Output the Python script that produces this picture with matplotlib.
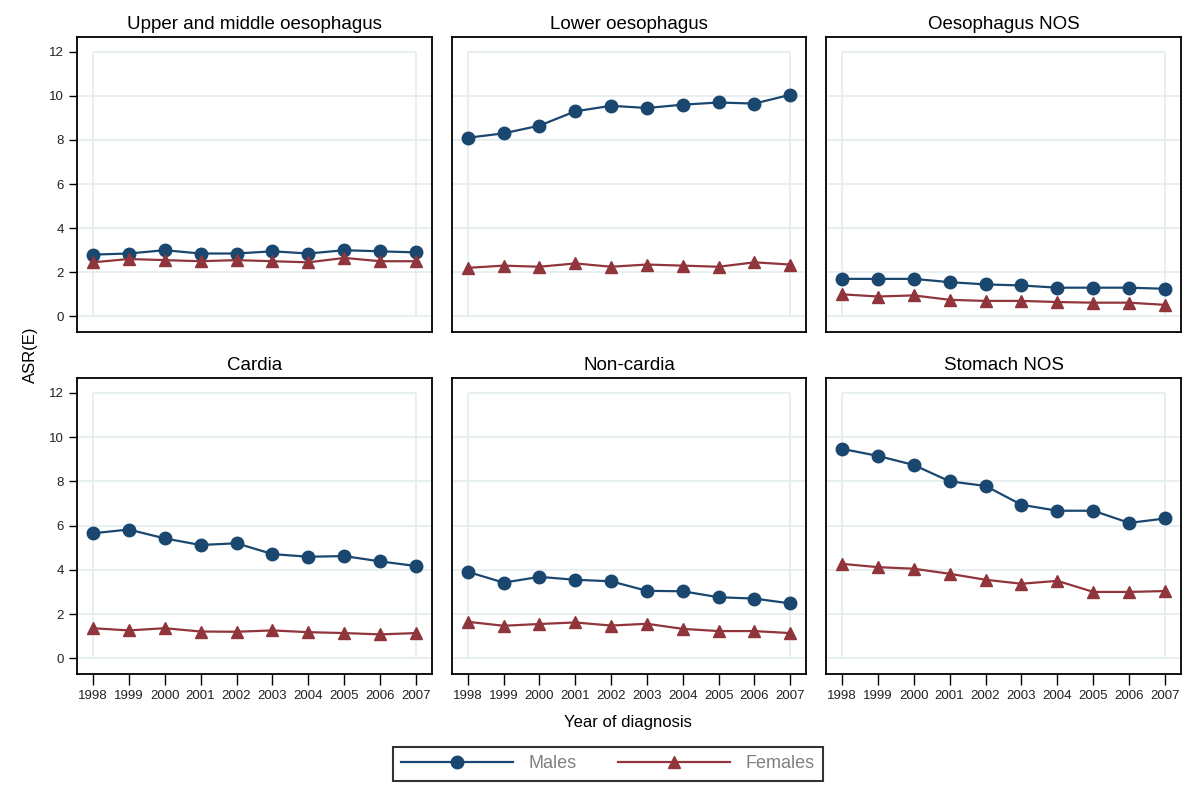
import matplotlib
matplotlib.use("Agg")
import matplotlib.pyplot as plt
from matplotlib.lines import Line2D

plt.rcParams['font.family'] = ['Liberation Sans', 'DejaVu Sans']

years = [1998, 1999, 2000, 2001, 2002, 2003, 2004, 2005, 2006, 2007]
panel_titles = ["Upper and middle oesophagus", "Lower oesophagus", "Oesophagus NOS",
                "Cardia", "Non-cardia", "Stomach NOS"]
y_ticks = [0, 2, 4, 6, 8, 10, 12]

males_upper_middle = [2.80, 2.85, 3.00, 2.85, 2.85, 2.95, 2.85, 3.00, 2.95, 2.90]
females_upper_middle = [2.45, 2.60, 2.55, 2.50, 2.55, 2.50, 2.45, 2.65, 2.50, 2.50]
males_lower = [8.10, 8.30, 8.65, 9.30, 9.55, 9.45, 9.60, 9.70, 9.65, 10.05]
females_lower = [2.20, 2.30, 2.25, 2.40, 2.25, 2.35, 2.30, 2.25, 2.45, 2.35]
males_oes_nos = [1.70, 1.70, 1.70, 1.55, 1.45, 1.40, 1.30, 1.30, 1.30, 1.25]
females_oes_nos = [1.00, 0.90, 0.95, 0.75, 0.70, 0.70, 0.65, 0.62, 0.62, 0.52]
males_cardia = [5.65, 5.82, 5.42, 5.12, 5.20, 4.71, 4.59, 4.62, 4.38, 4.17]
females_cardia = [1.36, 1.26, 1.36, 1.21, 1.20, 1.26, 1.18, 1.14, 1.08, 1.14]
males_noncardia = [3.91, 3.42, 3.68, 3.55, 3.48, 3.05, 3.03, 2.76, 2.70, 2.48]
females_noncardia = [1.65, 1.47, 1.55, 1.62, 1.48, 1.56, 1.33, 1.23, 1.23, 1.14]
males_stomach_nos = [9.47, 9.15, 8.74, 8.00, 7.79, 6.94, 6.67, 6.67, 6.12, 6.32]
females_stomach_nos = [4.27, 4.12, 4.05, 3.82, 3.55, 3.37, 3.50, 3.00, 3.00, 3.04]

males = [males_upper_middle, males_lower, males_oes_nos,
         males_cardia, males_noncardia, males_stomach_nos]
females = [females_upper_middle, females_lower, females_oes_nos,
           females_cardia, females_noncardia, females_stomach_nos]

c_m = '#1a476f'
c_f = '#90353b'
c_grid = '#e6eef0'

fig = plt.figure(figsize=(12, 7.92), dpi=100)
W, H = 1200, 792
cols = [(77, 432), (452, 806), (826, 1181)]
rows = [(37, 332), (378, 674)]

for i in range(6):
    r, c = divmod(i, 3)
    x0, x1 = cols[c]
    y0, y1 = rows[r]
    ax = fig.add_axes([x0 / W, 1 - y1 / H, (x1 - x0) / W, (y1 - y0) / H])
    ax.set_xlim(1997.56, 2007.44)
    ax.set_ylim(-0.71, 12.67)
    # grid
    for t in y_ticks[:-1]:
        ax.axhline(t, color=c_grid, lw=1.3, zorder=0)
    ax.hlines(y_ticks[-1], years[0], years[-1], color=c_grid, lw=1.3, zorder=0)
    ax.vlines([years[0], years[-1]], y_ticks[0], y_ticks[-1], color=c_grid, lw=1.3, zorder=0)

    ax.plot(years, males[i], color=c_m, lw=1.6, marker='o', ms=9, zorder=3)
    ax.plot(years, females[i], color=c_f, lw=1.6, marker='^', ms=8, zorder=3)
    ax.set_title(panel_titles[i], fontsize=13.5, pad=6)

    for s in ax.spines.values():
        s.set_linewidth(1.3)
        s.set_color('black')

    ax.set_yticks(y_ticks)
    ax.set_xticks(years)
    if c == 0:
        ax.tick_params(axis='y', direction='out', length=6, width=1.0, labelsize=9.5,
                       labelcolor='#222222')
    else:
        ax.tick_params(axis='y', left=False, labelleft=False)
    if r == 1:
        ax.tick_params(axis='x', direction='out', length=8, width=1.0, labelsize=9.5,
                       labelcolor='#222222')
    else:
        ax.tick_params(axis='x', bottom=False, labelbottom=False)

fig.text(30 / W, 1 - 355 / H, 'ASR(E)', rotation=90, ha='center', va='center', fontsize=12)
fig.text(628 / W, 1 - 722 / H, 'Year of diagnosis', ha='center', va='center', fontsize=12)

handles = [Line2D([], [], color=c_m, lw=1.6, marker='o', ms=9),
           Line2D([], [], color=c_f, lw=1.6, marker='^', ms=8)]
leg = fig.legend(handles, ['Males', 'Females'], loc='center', bbox_to_anchor=(608 / W, 1 - 764 / H),
                 ncol=2, frameon=True, fancybox=False, edgecolor='black', fontsize=13,
                 handlelength=6.2, columnspacing=2.3, handletextpad=0.85, borderpad=0.45,
                 labelcolor='#808080')
leg.get_frame().set_linewidth(1.5)

fig.savefig('out.png', dpi=100, facecolor='white')
